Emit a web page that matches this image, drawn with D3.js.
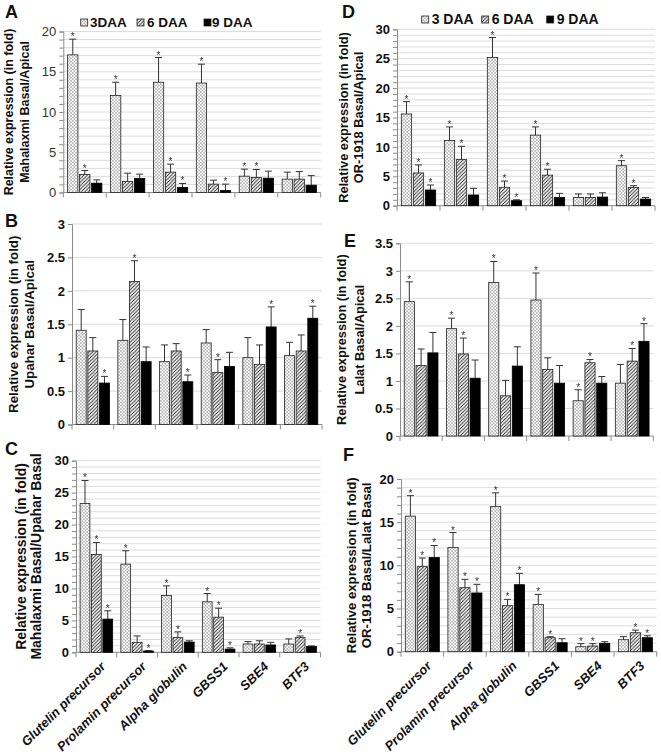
<!DOCTYPE html>
<html><head><meta charset="utf-8">
<script src="https://cdn.jsdelivr.net/npm/d3@7"></script>
<style>body{margin:0;background:#fff;} svg{display:block;font-family:Arial,"Liberation Sans",sans-serif;}</style>
</head><body><svg id="chart" width="661" height="755"></svg>
<script>
// ---------- DATA ----------
const categories = ["Glutelin precursor","Prolamin precursor","Alpha globulin","GBSS1","SBE4","BTF3"];
const seriesKeys = ["d3","d6","d9"];
const legendLabelsA = ["3DAA","6 DAA","9 DAA"];
const legendLabelsD = ["3 DAA","6 DAA","9 DAA"];

// Panel A : Mahalaxmi Basal/Apical  (rows: 3, 6, 9 DAA)
const A_mean = [[17.1,12.05,13.7,13.6,2.03,1.66],[2.24,1.37,2.53,1.04,1.86,1.66],[1.16,1.74,0.62,0.25,1.78,0.91]];
const A_sd   = [[1.95,1.65,3.07,2.34,0.87,0.87],[0.49,1.03,0.99,0.49,1.0,0.94],[0.41,0.54,0.5,0.79,0.87,1.19]];
const A_star = [[1,1,1,1,1,0],[1,0,1,0,1,0],[0,0,1,1,0,0]];
const A_ticks = [0,5,10,15,20];

// Panel B : Upahar Basal/Apical
const B_mean = [[1.41,1.26,0.94,1.22,1.0,1.03],[1.10,2.14,1.10,0.78,0.90,1.10],[0.62,0.94,0.64,0.87,1.46,1.59]];
const B_sd   = [[0.31,0.31,0.25,0.2,0.3,0.2],[0.2,0.31,0.11,0.19,0.29,0.24],[0.1,0.22,0.1,0.21,0.3,0.18]];
const B_star = [[0,0,0,0,0,0],[0,1,0,1,0,0],[1,0,1,0,1,1]];
const B_ticks = [0,0.5,1,1.5,2,2.5,3];

// Panel C : Mahalaxmi Basal/Upahar Basal
const C_mean = [[23.3,13.8,8.9,7.9,1.3,1.3],[15.3,1.56,2.3,5.5,1.3,2.3],[5.2,0.2,1.6,0.5,1.15,0.9]];
const C_sd   = [[3.6,2.1,1.5,1.3,0.37,0.8],[1.9,1.0,0.9,1.4,0.5,0.26],[1.3,0.05,0.2,0.2,0.41,0.1]];
const C_star = [[1,1,1,1,0,0],[1,0,1,1,0,1],[1,1,0,1,0,0]];
const C_ticks = [0,5,10,15,20,25,30];

// Panel D : OR-1918 Basal/Apical
const D_mean = [[15.6,11.08,25.2,12.0,1.4,6.8],[5.57,7.84,3.13,5.2,1.4,3.1],[2.67,1.82,0.85,1.4,1.47,1.13]];
const D_sd   = [[2.1,2.32,3.4,1.4,0.6,0.86],[1.36,2.26,1.07,1.0,0.6,0.3],[0.85,1.13,0.15,0.7,0.73,0.27]];
const D_star = [[1,1,1,1,0,1],[1,1,1,1,0,1],[1,0,1,0,0,0]];
const D_ticks = [0,5,10,15,20,25,30];

// Panel E : Lalat Basal/Apical
const E_mean = [[2.44,1.95,2.79,2.47,0.64,0.96],[1.28,1.49,0.73,1.21,1.33,1.36],[1.51,1.05,1.27,0.96,0.96,1.72]];
const E_sd   = [[0.36,0.19,0.38,0.49,0.2,0.34],[0.3,0.29,0.28,0.21,0.06,0.23],[0.37,0.33,0.35,0.32,0.12,0.32]];
const E_star = [[1,1,1,1,1,0],[0,1,0,0,1,1],[0,0,0,0,0,1]];
const E_ticks = [0,0.5,1,1.5,2,2.5,3,3.5];

// Panel F : OR-1918 Basal/Lalat Basal
const F_mean = [[15.7,12.08,16.8,5.48,0.58,1.39],[9.85,7.41,5.33,1.62,0.66,2.2],[10.9,6.8,7.76,1.04,0.97,1.62]];
const F_sd   = [[2.37,1.72,1.6,1.16,0.35,0.35],[1.0,0.97,0.73,0.12,0.27,0.3],[1.4,1.0,1.31,0.46,0.19,0.23]];
const F_star = [[1,1,1,1,1,0],[1,1,1,1,1,1],[1,1,1,0,0,1]];
const F_ticks = [0,5,10,15,20];

const yTitle1 = "Relative expression (in fold)";

// ---------- LAYOUT ----------
const panels = [
  {L:"A", mean:A_mean, sd:A_sd, star:A_star, ticks:A_ticks, minor:1, x0:63.3, x1:320.7, yT:31.5, yB:192.5,
   t2:"Mahalaxmi Basal/Apical", lx:5, ly:18, tx:[9,25], ts:12.5, tickBold:false,
   legend:{labels:legendLabelsA, sq:[80.7,137,204], tx:[90,147,212], y:27, fs:13.5}},
  {L:"B", mean:B_mean, sd:B_sd, star:B_star, ticks:B_ticks, minor:0.5, x0:72, x1:322, yT:224, yB:424.5,
   t2:"Upahar Basal/Apical", lx:5, ly:227, tx:[13.5,29], ts:13.3, tickBold:true},
  {L:"C", mean:C_mean, sd:C_sd, star:C_star, ticks:C_ticks, minor:1, x0:76, x1:320.5, yT:460.7, yB:652.3,
   t2:"Mahalaxmi Basal/Upahar Basal", lx:5, ly:455, tx:[21.5,36], ts:14, tickBold:true, xlabels:true},
  {L:"D", mean:D_mean, sd:D_sd, star:D_star, ticks:D_ticks, minor:1, x0:397, x1:655, yT:29.3, yB:205.7,
   t2:"OR-1918 Basal/Apical", lx:342, ly:18, tx:[343.5,359], ts:12.8, tickBold:true,
   legend:{labels:legendLabelsD, sq:[421.7,481.7,546.7], tx:[431.7,491.7,556.7], y:24, fs:14}},
  {L:"E", mean:E_mean, sd:E_sd, star:E_star, ticks:E_ticks, minor:0.5, x0:400, x1:653.3, yT:243.3, yB:436,
   t2:"Lalat Basal/Apical", lx:344, ly:247, tx:[341.5,360], ts:12.8, tickBold:true},
  {L:"F", mean:F_mean, sd:F_sd, star:F_star, ticks:F_ticks, minor:1, x0:401, x1:656.7, yT:479, yB:651.7,
   t2:"OR-1918 Basal/Lalat Basal", lx:343, ly:461, tx:[351.5,366], ts:13.2, tickBold:true, xlabels:true}
];

const svg = d3.select("#chart");
const defs = svg.append("defs");
const dots = defs.append("pattern").attr("id","dots").attr("patternUnits","userSpaceOnUse").attr("width",3.2).attr("height",3.2);
dots.append("rect").attr("width",3.2).attr("height",3.2).attr("fill","#fff");
dots.append("circle").attr("cx",0.8).attr("cy",0.8).attr("r",0.55).attr("fill","#333");
dots.append("circle").attr("cx",2.4).attr("cy",2.4).attr("r",0.55).attr("fill","#333");
const hatch = defs.append("pattern").attr("id","hatch").attr("patternUnits","userSpaceOnUse").attr("width",3.5).attr("height",3.5);
hatch.append("rect").attr("width",3.5).attr("height",3.5).attr("fill","#fff");
hatch.append("path").attr("d","M-1,1 L1,-1 M0,3.5 L3.5,0 M2.5,4.5 L4.5,2.5").attr("stroke","#222").attr("stroke-width",0.9);
const gray = defs.append("filter").attr("id","gs").attr("x","-50%").attr("y","-50%").attr("width","200%").attr("height","200%");
gray.append("feColorMatrix").attr("type","saturate").attr("values","0");
const fills = ["url(#dots)","url(#hatch)","#000"];

panels.forEach(p => {
  const g = svg.append("g");
  const ymax = p.ticks[p.ticks.length-1];
  const y = d3.scaleLinear().domain([0, ymax]).range([p.yB, p.yT]);
  const x = d3.scaleBand().domain(categories).range([p.x0, p.x1]).padding(0);
  const xi = d3.scaleBand().domain(seriesKeys).range([0, x.bandwidth()]).paddingInner(0.14).paddingOuter(0.36);

  // grid lines (minor)
  const minorTicks = d3.range(0, ymax + p.minor/2, p.minor);
  g.append("g").selectAll("line").data(minorTicks.filter(v => v > 0)).join("line")
    .attr("x1", p.x0).attr("x2", p.x1).attr("y1", d => y(d)).attr("y2", d => y(d))
    .attr("stroke","#dcdcdc").attr("stroke-width",1);

  // y axis
  const yAxis = d3.axisLeft(y).tickValues(minorTicks).tickSize(4).tickFormat(d => p.ticks.some(t => Math.abs(t-d)<1e-6) ? String(+d.toFixed(1)) : "");
  const ya = g.append("g").attr("transform",`translate(${p.x0},0)`).call(yAxis);
  ya.select(".domain").attr("stroke","#8c8c8c");
  ya.selectAll(".tick line").attr("stroke","#8c8c8c");
  ya.selectAll(".tick text").attr("x",-7).attr("font-size",13).attr("font-weight", p.tickBold ? "bold" : "normal")
    .attr("fill", p.tickBold ? "#111" : "#333").attr("font-family","Arial,'Liberation Sans',sans-serif");

  // x axis
  const bounds = categories.map(c => x(c)).concat([p.x1]);
  g.append("line").attr("x1",p.x0).attr("x2",p.x1).attr("y1",p.yB).attr("y2",p.yB).attr("stroke","#8c8c8c");
  g.append("g").selectAll("line").data(bounds).join("line")
    .attr("x1", d => d).attr("x2", d => d).attr("y1", p.yB).attr("y2", p.yB + 5).attr("stroke","#8c8c8c");

  // bars
  seriesKeys.forEach((k, si) => {
    const rows = categories.map((c, ci) => ({c, v:p.mean[si][ci], e:p.sd[si][ci], s:p.star[si][ci]}));
    const sg = g.append("g");
    sg.selectAll("line.eb").data(rows).join("line").attr("class","eb")
      .attr("x1", d => x(d.c) + xi(k) + xi.bandwidth()/2).attr("x2", d => x(d.c) + xi(k) + xi.bandwidth()/2)
      .attr("y1", d => y(d.v)).attr("y2", d => y(d.v + d.e)).attr("stroke","#333").attr("stroke-width",1);
    sg.selectAll("line.cap").data(rows).join("line").attr("class","cap")
      .attr("x1", d => x(d.c) + xi(k) + xi.bandwidth()/2 - 3.5).attr("x2", d => x(d.c) + xi(k) + xi.bandwidth()/2 + 3.5)
      .attr("y1", d => y(d.v + d.e)).attr("y2", d => y(d.v + d.e)).attr("stroke","#333").attr("stroke-width",1);
    sg.selectAll("rect").data(rows).join("rect")
      .attr("x", d => x(d.c) + xi(k)).attr("width", xi.bandwidth())
      .attr("y", d => y(d.v)).attr("height", d => p.yB - y(d.v))
      .attr("fill", fills[si]).attr("stroke", si === 2 ? "#000" : "#222").attr("stroke-width", 0.8);
    sg.append("g").attr("filter","url(#gs)").selectAll("text").data(rows.filter(d => d.s)).join("text")
      .attr("x", d => x(d.c) + xi(k) + xi.bandwidth()/2).attr("y", d => y(d.v + d.e) + 1)
      .attr("text-anchor","middle").attr("font-size",10).attr("fill","#333").text("*");
  });

  // x labels
  if (p.xlabels) {
    g.append("g").selectAll("text").data(categories).join("text")
      .attr("transform", d => `translate(${x(d) + x.bandwidth()/2 + 10},${p.yB + 15}) rotate(-45)`)
      .attr("text-anchor","end").attr("font-size",13).attr("font-weight","bold").attr("font-style","italic")
      .attr("fill","#111").text(d => d);
  }

  // y titles
  const cy = (p.yT + p.yB) / 2;
  [yTitle1, p.t2].forEach((t, i) => {
    g.append("text").attr("transform",`translate(${p.tx[i]},${cy}) rotate(-90)`)
      .attr("text-anchor","middle").attr("dy","0.35em").attr("font-size",p.ts).attr("font-weight","bold")
      .attr("fill","#111").text(t);
  });

  // panel letter
  g.append("text").attr("x",p.lx).attr("y",p.ly).attr("font-size",18).attr("font-weight","bold").attr("fill","#111").text(p.L);

  // legend
  if (p.legend) {
    const lg = g.append("g");
    p.legend.labels.forEach((lab, i) => {
      lg.append("rect").attr("x", p.legend.sq[i]).attr("y", p.legend.y - 8).attr("width",7).attr("height",7)
        .attr("fill", fills[i]).attr("stroke","#222").attr("stroke-width",0.8);
      lg.append("text").attr("x", p.legend.tx[i]).attr("y", p.legend.y).attr("font-size",p.legend.fs)
        .attr("font-weight","bold").attr("fill","#111").text(lab);
    });
  }
});
</script></body></html>
